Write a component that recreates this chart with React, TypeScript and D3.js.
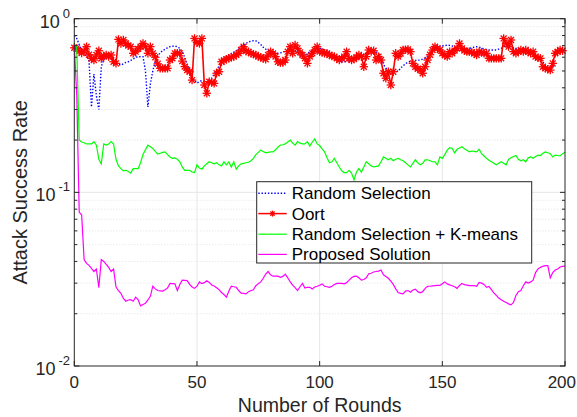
import React from "react";
import * as d3 from "d3";

const W = 577;
const H = 417;

const randomSelection = [
  0.8, 0.77, 0.71, 0.66, 0.63, 0.61, 0.57, 0.31, 0.48, 0.36,
  0.3, 0.53, 0.58, 0.605, 0.6, 0.59, 0.57, 0.553, 0.545, 0.54,
  0.55, 0.56, 0.565, 0.575, 0.585, 0.6, 0.603, 0.605, 0.605, 0.5,
  0.31, 0.42, 0.5, 0.57, 0.61, 0.635, 0.655, 0.668, 0.68, 0.69,
  0.694, 0.696, 0.688, 0.675, 0.645, 0.6, 0.545, 0.49, 0.46, 0.44,
  0.425, 0.435, 0.44, 0.435, 0.43, 0.445, 0.455, 0.48, 0.506, 0.535,
  0.565, 0.585, 0.605, 0.62, 0.63, 0.64, 0.65, 0.675, 0.695, 0.705,
  0.72, 0.735, 0.742, 0.747, 0.745, 0.73, 0.71, 0.685, 0.668, 0.655,
  0.648, 0.64, 0.633, 0.633, 0.636, 0.642, 0.652, 0.66, 0.666, 0.66,
  0.65, 0.635, 0.61, 0.605, 0.615, 0.63, 0.645, 0.652, 0.66, 0.668,
  0.675, 0.672, 0.663, 0.65, 0.635, 0.615, 0.595, 0.585, 0.57, 0.565,
  0.565, 0.565, 0.575, 0.585, 0.595, 0.6, 0.603, 0.605, 0.62, 0.632,
  0.65, 0.66, 0.655, 0.646, 0.63, 0.605, 0.545, 0.52, 0.5, 0.495,
  0.5, 0.503, 0.497, 0.52, 0.535, 0.55, 0.562, 0.568, 0.572, 0.575,
  0.577, 0.578, 0.585, 0.592, 0.61, 0.632, 0.655, 0.67, 0.68, 0.69,
  0.696, 0.7, 0.705, 0.702, 0.697, 0.685, 0.672, 0.665, 0.66, 0.665,
  0.67, 0.675, 0.68, 0.686, 0.69, 0.685, 0.677, 0.67, 0.665, 0.66,
  0.66, 0.66, 0.66, 0.668, 0.675, 0.69, 0.705, 0.698, 0.69, 0.682,
  0.675, 0.672, 0.668, 0.666, 0.655, 0.646, 0.635, 0.625, 0.618, 0.6,
  0.58, 0.565, 0.535, 0.506, 0.51, 0.53, 0.541,
];

const oort = [
  0.68, 0.675, 0.65, 0.635, 0.65, 0.69, 0.62, 0.59, 0.578, 0.618,
  0.654, 0.59, 0.61, 0.618, 0.605, 0.618, 0.565, 0.553, 0.76, 0.72,
  0.754, 0.72, 0.7, 0.69, 0.632, 0.646, 0.67, 0.69, 0.72, 0.69,
  0.632, 0.69, 0.632, 0.6, 0.55, 0.518, 0.518, 0.518, 0.518, 0.578,
  0.591, 0.632, 0.632, 0.632, 0.57, 0.53, 0.506, 0.495, 0.443, 0.77,
  0.73, 0.72, 0.77, 0.415, 0.372, 0.434, 0.43, 0.424, 0.485, 0.495,
  0.565, 0.575, 0.585, 0.591, 0.6, 0.605, 0.62, 0.632, 0.66, 0.69,
  0.65, 0.646, 0.632, 0.625, 0.618, 0.605, 0.6, 0.59, 0.584, 0.618,
  0.646, 0.63, 0.605, 0.565, 0.558, 0.56, 0.578, 0.646, 0.69, 0.632,
  0.705, 0.675, 0.64, 0.618, 0.591, 0.553, 0.605, 0.632, 0.66, 0.69,
  0.646, 0.64, 0.632, 0.632, 0.618, 0.61, 0.605, 0.591, 0.578, 0.59,
  0.605, 0.646, 0.591, 0.578, 0.585, 0.6, 0.618, 0.605, 0.529, 0.605,
  0.66, 0.646, 0.654, 0.578, 0.605, 0.578, 0.485, 0.454, 0.495, 0.415,
  0.495, 0.632, 0.605, 0.63, 0.66, 0.663, 0.666, 0.646, 0.553, 0.529,
  0.515, 0.506, 0.485, 0.529, 0.578, 0.62, 0.66, 0.69, 0.675, 0.66,
  0.632, 0.615, 0.605, 0.646, 0.632, 0.655, 0.675, 0.72, 0.675, 0.655,
  0.646, 0.646, 0.64, 0.632, 0.618, 0.646, 0.64, 0.632, 0.632, 0.591,
  0.591, 0.591, 0.591, 0.591, 0.591, 0.77, 0.72, 0.69, 0.754, 0.646,
  0.632, 0.645, 0.66, 0.646, 0.66, 0.645, 0.632, 0.646, 0.605, 0.595,
  0.591, 0.529, 0.518, 0.512, 0.506, 0.553, 0.632, 0.645, 0.66, 0.654,
];

const randomKmeans = [
  0.72, 0.68, 0.2, 0.195, 0.193, 0.19, 0.19, 0.19, 0.196, 0.187,
  0.155, 0.146, 0.19, 0.187, 0.19, 0.196, 0.19, 0.155, 0.142, 0.137,
  0.133, 0.134, 0.132, 0.129, 0.137, 0.137, 0.137, 0.148, 0.165, 0.176,
  0.187, 0.183, 0.179, 0.172, 0.166, 0.168, 0.17, 0.171, 0.165, 0.16,
  0.157, 0.158, 0.155, 0.15, 0.14, 0.134, 0.134, 0.134, 0.131, 0.13,
  0.144, 0.138, 0.136, 0.142, 0.146, 0.15, 0.148, 0.146, 0.148, 0.144,
  0.142, 0.15, 0.144, 0.15, 0.14, 0.15, 0.136, 0.142, 0.146, 0.147,
  0.148, 0.149, 0.152, 0.157, 0.165, 0.17, 0.175, 0.172, 0.169, 0.17,
  0.171, 0.171, 0.176, 0.182, 0.187, 0.188, 0.19, 0.195, 0.2, 0.192,
  0.187, 0.196, 0.192, 0.19, 0.19, 0.196, 0.185, 0.195, 0.203, 0.19,
  0.186, 0.178, 0.171, 0.158, 0.148, 0.15, 0.157, 0.148, 0.14, 0.133,
  0.13, 0.13, 0.134, 0.129, 0.118, 0.131, 0.137, 0.131, 0.14, 0.15,
  0.146, 0.142, 0.14, 0.141, 0.142, 0.15, 0.16, 0.157, 0.154, 0.157,
  0.152, 0.155, 0.157, 0.154, 0.152, 0.148, 0.144, 0.14, 0.147, 0.154,
  0.148, 0.144, 0.147, 0.154, 0.154, 0.152, 0.15, 0.15, 0.144, 0.16,
  0.157, 0.165, 0.175, 0.181, 0.179, 0.169, 0.177, 0.18, 0.183, 0.178,
  0.175, 0.171, 0.173, 0.172, 0.171, 0.177, 0.167, 0.162, 0.157, 0.153,
  0.15, 0.147, 0.144, 0.147, 0.15, 0.147, 0.144, 0.155, 0.158, 0.161,
  0.163, 0.155, 0.152, 0.154, 0.15, 0.158, 0.16, 0.157, 0.161, 0.164,
  0.163, 0.168, 0.171, 0.169, 0.167, 0.16, 0.164, 0.163, 0.162, 0.167,
  0.17,
];

const proposed = [
  0.7, 0.36, 0.077, 0.074, 0.041, 0.039, 0.038, 0.0365, 0.035, 0.0362,
  0.0283, 0.041, 0.04, 0.0385, 0.037, 0.035, 0.0362, 0.0285, 0.0272, 0.0262,
  0.0245, 0.0236, 0.024, 0.0241, 0.0236, 0.0249, 0.0241, 0.0222, 0.0226, 0.023,
  0.024, 0.0252, 0.0288, 0.0278, 0.0272, 0.0271, 0.027, 0.0275, 0.0281, 0.0299,
  0.0298, 0.0297, 0.0272, 0.0295, 0.0312, 0.0311, 0.031, 0.0295, 0.0285, 0.028,
  0.0288, 0.0305, 0.0298, 0.0302, 0.031, 0.0303, 0.0293, 0.0289, 0.0282, 0.0275,
  0.0265, 0.0258, 0.0249, 0.027, 0.0288, 0.0286, 0.0284, 0.0272, 0.0263, 0.0262,
  0.026, 0.0268, 0.0272, 0.0275, 0.029, 0.0298, 0.0305, 0.032, 0.0338, 0.035,
  0.0335, 0.0329, 0.0329, 0.0329, 0.0324, 0.0328, 0.0338, 0.0322, 0.0305, 0.0292,
  0.0283, 0.0272, 0.0286, 0.0299, 0.0281, 0.0284, 0.0284, 0.0278, 0.0285, 0.0288,
  0.0292, 0.0297, 0.0288, 0.0286, 0.0284, 0.0288, 0.0295, 0.0299, 0.0299, 0.0299,
  0.0297, 0.0302, 0.0312, 0.0322, 0.0328, 0.0329, 0.0322, 0.0312, 0.0315, 0.0322,
  0.034, 0.0342, 0.0348, 0.035, 0.0352, 0.0357, 0.0335, 0.0328, 0.032, 0.0308,
  0.0295, 0.0278, 0.0265, 0.0262, 0.026, 0.027, 0.0272, 0.0266, 0.0274, 0.0277,
  0.0268, 0.0264, 0.0268, 0.028, 0.0288, 0.0288, 0.0289, 0.029, 0.0291, 0.0291,
  0.0298, 0.0305, 0.0297, 0.0293, 0.029, 0.0286, 0.028, 0.0291, 0.0299, 0.0294,
  0.0292, 0.029, 0.029, 0.029, 0.0288, 0.0303, 0.03, 0.0295, 0.0284, 0.0287,
  0.0275, 0.0264, 0.0255, 0.0246, 0.0241, 0.0236, 0.0232, 0.0228, 0.0225, 0.0232,
  0.0255, 0.0268, 0.0272, 0.029, 0.0305, 0.03, 0.0305, 0.0312, 0.0345, 0.0362,
  0.037, 0.0375, 0.0378, 0.0379, 0.0322, 0.0345, 0.0357, 0.0362, 0.0372, 0.0375,
  0.0376,
];

const xTicks = [0, 50, 100, 150, 200];
const yMajor = [0.01, 0.1, 1];
const yExponents = ["-2", "-1", "0"];
const legendLabels = [
  "Random Selection",
  "Oort",
  "Random Selection + K-means",
  "Proposed Solution",
];

const FONT = "'Liberation Sans', Arial, Helvetica, sans-serif";
const AX = "#262626";

function Asterisk({ cx, cy, r, color, w }: { cx: number; cy: number; r: number; color: string; w: number }) {
  const d = r * 0.7071;
  return (
    <g stroke={color} strokeWidth={w}>
      <line x1={cx - r} y1={cy} x2={cx + r} y2={cy} />
      <line x1={cx} y1={cy - r} x2={cx} y2={cy + r} />
      <line x1={cx - d} y1={cy - d} x2={cx + d} y2={cy + d} />
      <line x1={cx - d} y1={cy + d} x2={cx + d} y2={cy - d} />
    </g>
  );
}

export default function App() {
  const left = 74.3;
  const right = 565;
  const top = 18.7;
  const bottom = 366;
  const x = d3.scaleLinear().domain([0, 200]).range([left, right]);
  const y = d3.scaleLog().domain([0.01, 1]).range([bottom, top]);

  const line = d3
    .line<number>()
    .x((_, i) => x(i))
    .y((v) => y(v));

  const minor: number[] = [];
  [0.01, 0.1].forEach((b) => {
    for (let k = 2; k <= 9; k++) minor.push(b * k);
  });

  const colors = ["#0000ff", "#ff0000", "#00ff00", "#ff00ff"];

  const legX = 256.7;
  const legY = 181.7;
  const legW = 275;
  const legH = 81.3;
  const rowY = [193.3, 213.6, 234.2, 254.4];

  return (
    <svg
      width={W}
      height={H}
      style={{ position: "absolute", left: 0, top: 0, background: "#fff" }}
      fontFamily={FONT}
    >
      <rect x={0} y={0} width={W} height={H} fill="#fff" />
      {minor.map((v, i) => (
        <line
          key={"mg" + i}
          x1={left}
          x2={right}
          y1={y(v)}
          y2={y(v)}
          stroke="#d9d9d9"
          strokeWidth={0.8}
          strokeDasharray="1 2"
        />
      ))}
      {xTicks.slice(1, -1).map((t) => (
        <line key={"gx" + t} x1={x(t)} x2={x(t)} y1={top} y2={bottom} stroke="#e6e6e6" strokeWidth={1} />
      ))}
      <line x1={left} x2={right} y1={y(0.1)} y2={y(0.1)} stroke="#e6e6e6" strokeWidth={1} />

      <path
        d={line(randomSelection) || ""}
        fill="none"
        stroke={colors[0]}
        strokeWidth={1.4}
        strokeDasharray="1.4 1.8"
      />
      <path d={line(oort) || ""} fill="none" stroke={colors[1]} strokeWidth={1.6} />
      {oort.map((v, i) => (
        <Asterisk key={"o" + i} cx={x(i)} cy={y(v)} r={4.2} w={1.3} color={colors[1]} />
      ))}
      <path d={line(randomKmeans) || ""} fill="none" stroke={colors[2]} strokeWidth={1.2} />
      <path d={line(proposed) || ""} fill="none" stroke={colors[3]} strokeWidth={1.2} />

      <rect x={left} y={top} width={right - left} height={bottom - top} fill="none" stroke={AX} strokeWidth={1} />

      {xTicks.map((t, i) => (
        <g key={"xt" + t}>
          <line x1={x(t)} x2={x(t)} y1={bottom} y2={bottom - 5} stroke={AX} />
          <line x1={x(t)} x2={x(t)} y1={top} y2={top + 5} stroke={AX} />
          <text
            x={i === xTicks.length - 1 ? 576 : x(t)}
            y={388}
            textAnchor={i === xTicks.length - 1 ? "end" : "middle"}
            fontSize={17}
            fill={AX}
          >
            {t}
          </text>
        </g>
      ))}
      {yMajor.map((v) => (
        <g key={"ym" + v}>
          <line x1={left} x2={left + 5} y1={y(v)} y2={y(v)} stroke={AX} />
          <line x1={right} x2={right - 5} y1={y(v)} y2={y(v)} stroke={AX} />
        </g>
      ))}
      {minor.map((v, i) => (
        <g key={"ymn" + i}>
          <line x1={left} x2={left + 3} y1={y(v)} y2={y(v)} stroke={AX} />
          <line x1={right} x2={right - 3} y1={y(v)} y2={y(v)} stroke={AX} />
        </g>
      ))}
      {yMajor.map((v, i) => (
        <text key={"yl" + v} x={70} y={y(v) + 9} textAnchor="end" fontSize={18} fill={AX}>
          <tspan>10</tspan>
          <tspan dx={3} dy={-10} fontSize={13}>
            {yExponents[i]}
          </tspan>
        </text>
      ))}

      <text x={(left + right) / 2} y={412} textAnchor="middle" fontSize={19.5} fill={AX}>
        Number of Rounds
      </text>
      <text
        transform={`translate(27, ${(top + bottom) / 2}) rotate(-90)`}
        textAnchor="middle"
        fontSize={20}
        fill={AX}
      >
        Attack Success Rate
      </text>

      <rect x={legX} y={legY} width={legW} height={legH} fill="#fff" stroke={AX} strokeWidth={1} />
      {legendLabels.map((lab, i) => (
        <g key={"lg" + i}>
          <line
            x1={258.3}
            x2={286.7}
            y1={rowY[i]}
            y2={rowY[i]}
            stroke={colors[i]}
            strokeWidth={i === 0 ? 1.4 : i === 1 ? 1.5 : 1.2}
            strokeDasharray={i === 0 ? "1.4 1.8" : undefined}
          />
          {i === 1 && <Asterisk cx={272.5} cy={rowY[i]} r={3} w={1.2} color={colors[1]} />}
          <text x={291.7} y={rowY[i] + 6} fontSize={17} fill="#000">
            {lab}
          </text>
        </g>
      ))}
    </svg>
  );
}
